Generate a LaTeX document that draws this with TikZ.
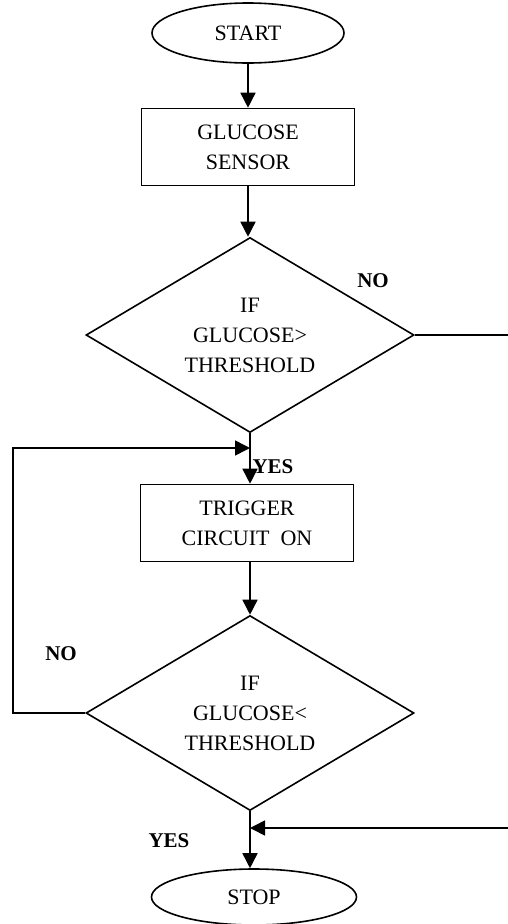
\documentclass[tikz,border=0pt]{standalone}
\usepackage{fontspec}
\setmainfont{Liberation Serif}
\usetikzlibrary{shapes.geometric,arrows.meta}

\tikzset{
  terminal/.style={draw,ellipse,inner sep=0pt},
  process/.style={draw,rectangle,minimum width=213pt,minimum height=77pt,inner sep=0pt},
  decision/.style={draw,diamond,aspect=1.69,inner sep=0pt,minimum width=328pt,minimum height=195pt},
  lbl/.style={font=\fontsize{21}{25}\selectfont\bfseries}
}

\begin{document}
\begin{tikzpicture}[x=1pt,y=-1pt,line width=1.6pt,
    >={Triangle[length=15pt,width=15pt]},
    every node/.append style={font=\fontsize{22}{30}\selectfont,align=center}]
    \useasboundingbox (0,0) rectangle (507,924);
    % nodes
    \node[terminal,minimum width=192pt,minimum height=60pt] (start) at (248,33) {START};
    \node[process] (sensor) at (248,147) {GLUCOSE\\SENSOR};
    \node[decision] (dec1) at (250,335) {IF\\GLUCOSE>\\THRESHOLD};
    \node[process] (trigger) at (247,523) {TRIGGER\\CIRCUIT\ \ ON};
    \node[decision] (dec2) at (250,713) {IF\\GLUCOSE<\\THRESHOLD};
    \node[terminal,minimum width=205pt,minimum height=56pt] (stop) at (254,897) {STOP};
    % junctions
    \coordinate (j1) at (250,448);
    \coordinate (j2) at (250,828);
    % connectors
    \draw[->] (start) -- (start |- sensor.north);
    \draw[->] (sensor) -- (sensor |- dec1.north);
    \draw[->] (dec1.south) -- (dec1.south |- trigger.north);
    \draw[->] (dec1.south |- trigger.south) -- (dec2.north);
    \draw[->] (dec2.south) -- (dec2.south |- stop.north);
    \draw[->] (dec2.west) -- (13,713) -- (13,448) -- (j1);
    \draw[->] (dec1.east) -- (515,335) -- (515,828) -- (j2);
    % labels
    \node[lbl] (no1) at (373,281) {NO};
    \node[lbl] (yes1) at (273,467) {YES};
    \node[lbl] (no2) at (61,654) {NO};
    \node[lbl] (yes2) at (169,841) {YES};
\end{tikzpicture}
\end{document}
